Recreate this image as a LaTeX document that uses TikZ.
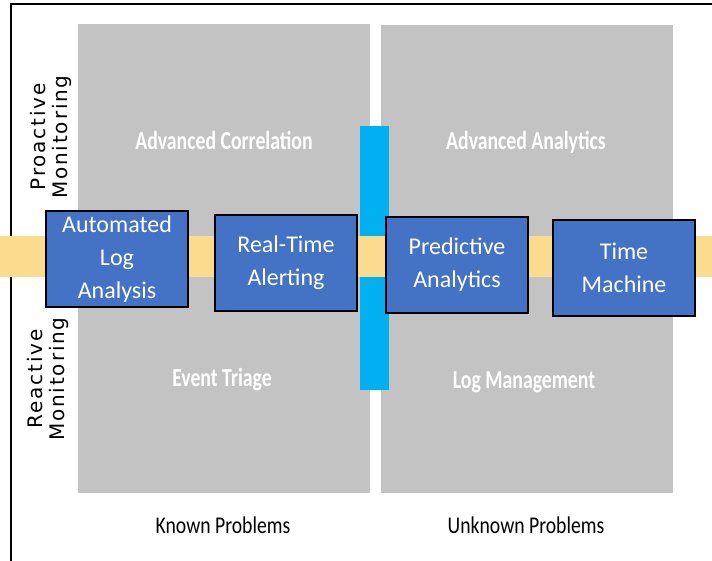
\documentclass[tikz,border=0pt]{standalone}
\usepackage{fontspec}
\setmainfont{Carlito}
\newfontfamily\dejavu[LetterSpace=9]{DejaVu Sans}
\definecolor{quadgray}{HTML}{C3C3C3}
\definecolor{barblue}{HTML}{00B0F0}
\definecolor{bandyellow}{HTML}{FBDC8F}
\definecolor{boxblue}{HTML}{4472C4}
\tikzset{
  stage/.style={draw=black, line width=2.6pt, fill=boxblue, text=white,
    minimum width=142pt, minimum height=96pt, align=center, inner sep=2pt,
    font=\fontsize{24}{33}\selectfont},
  quadlabel/.style={text=white, font=\bfseries\fontsize{26}{28}\selectfont},
  axislabel/.style={font=\dejavu\fontsize{20}{22}\selectfont, align=center, rotate=90},
  footlabel/.style={font=\fontsize{24}{26}\selectfont}
}
\newcommand{\narrow}[1]{\scalebox{0.76}[1]{#1}}
\newcommand{\slim}[1]{\scalebox{0.82}[1]{#1}}
\begin{document}
\begin{tikzpicture}[x=1pt,y=-1pt]
\useasboundingbox (0,0) rectangle (712,560);
\fill[white] (0,0) rectangle (712,560);
% outer frame (only top and left edges fall inside the page)
\draw[line width=1.8pt] (11,562) -- (11,4) -- (714,4);
% quadrant panels
\fill[quadgray] (78,24) rectangle (370,493);
\fill[quadgray] (381,25) rectangle (673,493);
% vertical divider bar
\fill[barblue] (360,126) rectangle (389,390);
% horizontal timeline band
\fill[bandyellow] (0,236) rectangle (712,277);
% quadrant titles
\node[quadlabel] (advcorr) at (224,140) {\narrow{Advanced Correlation}};
\node[quadlabel] (advanal) at (526,142) {\narrow{Advanced Analytics}};
\node[quadlabel] (triage) at (222,380) {\narrow{Event Triage}};
\node[quadlabel] (logmgmt) at (524,382) {\narrow{Log Management}};
% axis labels
\node[axislabel] (proactive) at (51,137) {Proactive\\Monitoring};
\node[axislabel] (reactive) at (48,379) {Reactive\\Monitoring};
\node[footlabel] (known) at (223,525) {\slim{Known Problems}};
\node[footlabel] (unknown) at (526,525) {\slim{Unknown Problems}};
% stages along the band
\node[stage] (auto) at (117,259) {Automated\\Log\\Analysis};
\node[stage] (rt) at (286,263) {Real-Time\\Alerting};
\node[stage] (pred) at (457,265) {Predictive\\Analytics};
\node[stage] (tm) at (624,268) {Time\\Machine};
\end{tikzpicture}
\end{document}
